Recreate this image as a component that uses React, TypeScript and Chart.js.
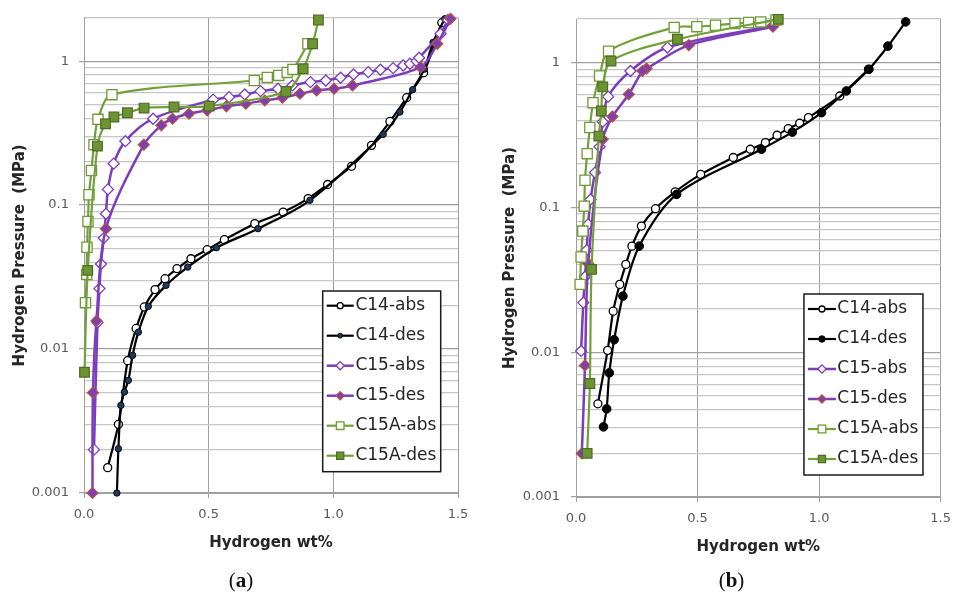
import React, { useEffect, useRef } from "react";
import { Chart, registerables } from "chart.js";

Chart.register(...registerables);

// ---------- text ----------
const SERIES_NAMES = ["C14-abs", "C14-des", "C15-abs", "C15-des", "C15A-abs", "C15A-des"];
const X_TITLE = "Hydrogen wt%";
const Y_TITLE = "Hydrogen Pressure  (MPa)";
const X_TICK_VALUES = [0, 0.5, 1.0, 1.5];
const X_TICK_LABELS = ["0.0", "0.5", "1.0", "1.5"];
const Y_TICK_LABELS = ["0.001", "0.01", "0.1", "1"];
const Y_GRID_VALUES = [
  0.001, 0.002, 0.003, 0.004, 0.005, 0.006, 0.007, 0.008, 0.009,
  0.01, 0.02, 0.03, 0.04, 0.05, 0.06, 0.07, 0.08, 0.09,
  0.1, 0.2, 0.3, 0.4, 0.5, 0.6, 0.7, 0.8, 0.9,
  1, 2,
];
const CAPTIONS = ["a", "b"];

// ---------- panel (a) data: [wt%, MPa] ----------
const A_C14_ABS: [number, number][] = [
  [0.095, 0.0015], [0.138, 0.003], [0.175, 0.0083], [0.209, 0.0139], [0.242, 0.0196],
  [0.285, 0.0259], [0.325, 0.0308], [0.373, 0.0362], [0.429, 0.0424], [0.494, 0.049],
  [0.563, 0.0575], [0.685, 0.0743], [0.799, 0.0894], [0.899, 0.111], [0.977, 0.139],
  [1.073, 0.186], [1.153, 0.26], [1.227, 0.381], [1.294, 0.557], [1.362, 0.83], [1.435, 1.85],
];
const A_C14_DES: [number, number][] = [
  [1.447, 1.97], [1.4, 1.35], [1.365, 0.88], [1.318, 0.633], [1.267, 0.443], [1.2, 0.31],
  [0.906, 0.108], [0.698, 0.0686], [0.531, 0.0506], [0.416, 0.0371], [0.329, 0.0277],
  [0.258, 0.0198], [0.218, 0.0131], [0.195, 0.00904], [0.178, 0.00606], [0.162, 0.00503],
  [0.148, 0.00406], [0.138, 0.00203], [0.132, 0.001],
];
const A_C15_ABS: [number, number][] = [
  [0.04, 0.002], [0.054, 0.0153], [0.062, 0.0263], [0.068, 0.039], [0.079, 0.059],
  [0.088, 0.087], [0.096, 0.1285], [0.119, 0.194], [0.166, 0.278], [0.277, 0.398],
  [0.518, 0.54], [0.582, 0.562], [0.645, 0.587], [0.708, 0.619], [0.778, 0.643],
  [0.836, 0.678], [0.908, 0.715], [0.97, 0.734], [1.029, 0.767], [1.081, 0.808],
  [1.14, 0.839], [1.189, 0.871], [1.24, 0.894], [1.28, 0.933], [1.307, 0.959],
  [1.334, 1.0], [1.344, 1.056], [1.43, 1.55], [1.46, 1.93],
];
const A_C15_DES: [number, number][] = [
  [1.47, 1.97], [1.417, 1.32], [1.35, 0.908], [1.077, 0.678], [1.003, 0.643], [0.933, 0.626],
  [0.866, 0.594], [0.796, 0.557], [0.725, 0.533], [0.649, 0.506], [0.571, 0.485],
  [0.494, 0.455], [0.421, 0.431], [0.355, 0.398], [0.31, 0.358], [0.24, 0.263],
  [0.088, 0.0686], [0.05, 0.0157], [0.036, 0.00498], [0.034, 0.001],
];
const A_C15A_ABS: [number, number][] = [
  [0.006, 0.021], [0.011, 0.033], [0.012, 0.051], [0.016, 0.077], [0.02, 0.118],
  [0.03, 0.174], [0.04, 0.263], [0.056, 0.394], [0.112, 0.585], [0.683, 0.734],
  [0.735, 0.771], [0.781, 0.796], [0.815, 0.835], [0.838, 0.876], [0.898, 1.32],
];
const A_C15A_DES: [number, number][] = [
  [0.94, 1.93], [0.917, 1.32], [0.879, 0.885], [0.81, 0.615], [0.502, 0.487], [0.361, 0.48],
  [0.241, 0.472], [0.174, 0.438], [0.12, 0.409], [0.086, 0.367], [0.054, 0.257],
  [0.015, 0.0352], [0.002, 0.0069],
];

// ---------- panel (b) data: [wt%, MPa] ----------
const B_C14_ABS: [number, number][] = [
  [0.09, 0.0044], [0.13, 0.0103], [0.153, 0.0192], [0.18, 0.0294], [0.205, 0.0404],
  [0.23, 0.054], [0.269, 0.0743], [0.327, 0.098], [0.408, 0.128], [0.513, 0.169],
  [0.647, 0.221], [0.717, 0.252], [0.779, 0.28], [0.827, 0.315], [0.873, 0.35],
  [0.92, 0.381], [0.956, 0.417], [1.085, 0.588], [1.203, 0.899],
];
const B_C14_DES: [number, number][] = [
  [1.356, 1.91], [1.283, 1.3], [1.205, 0.899], [1.112, 0.637], [1.01, 0.451], [0.89, 0.331],
  [0.763, 0.252], [0.414, 0.123], [0.26, 0.054], [0.193, 0.0244], [0.157, 0.0122],
  [0.137, 0.0072], [0.126, 0.00406], [0.113, 0.00305],
];
const B_C15_ABS: [number, number][] = [
  [0.021, 0.0102], [0.03, 0.022], [0.037, 0.0332], [0.044, 0.0507], [0.05, 0.0763],
  [0.06, 0.1135], [0.078, 0.174], [0.097, 0.262], [0.11, 0.39], [0.132, 0.582],
  [0.224, 0.875], [0.376, 1.27], [0.81, 1.8],
];
const B_C15_DES: [number, number][] = [
  [0.81, 1.77], [0.464, 1.32], [0.29, 0.909], [0.273, 0.875], [0.217, 0.604], [0.15, 0.424],
  [0.11, 0.295], [0.05, 0.041], [0.037, 0.0081], [0.024, 0.002],
];
const B_C15A_ABS: [number, number][] = [
  [0.017, 0.0294], [0.021, 0.0454], [0.028, 0.0686], [0.034, 0.102], [0.037, 0.154],
  [0.046, 0.235], [0.057, 0.356], [0.07, 0.529], [0.097, 0.808], [0.134, 1.2],
  [0.404, 1.75], [0.497, 1.77], [0.574, 1.81], [0.654, 1.86], [0.71, 1.89], [0.76, 1.91],
  [0.823, 1.97],
];
const B_C15A_DES: [number, number][] = [
  [0.832, 1.99], [0.417, 1.45], [0.144, 1.026], [0.11, 0.679], [0.104, 0.463], [0.094, 0.311],
  [0.064, 0.0373], [0.057, 0.00608], [0.046, 0.002],
];

const PANEL_A = [A_C14_ABS, A_C14_DES, A_C15_ABS, A_C15_DES, A_C15A_ABS, A_C15A_DES];
const PANEL_B = [B_C14_ABS, B_C14_DES, B_C15_ABS, B_C15_DES, B_C15A_ABS, B_C15A_DES];

// ---------- styles ----------
const FONT = '"DejaVu Sans", Verdana, sans-serif';
const PURPLE = "#7C3DBB";
const GREEN = "#72A039";

type SeriesStyle = {
  line: string; lineWidth: number; pointStyle: string; radius: number;
  fill: string; border: string; borderWidth: number;
};

function seriesStyles(panel: "a" | "b"): SeriesStyle[] {
  return [
    { line: "#000000", lineWidth: 2.2, pointStyle: "circle", radius: 4, fill: "#ffffff", border: "#000000", borderWidth: 1.3 },
    panel === "a"
      ? { line: "#000000", lineWidth: 2.2, pointStyle: "circle", radius: 3.2, fill: "#1F3A5F", border: "#0A0A0A", borderWidth: 1 }
      : { line: "#000000", lineWidth: 2.2, pointStyle: "circle", radius: 4.3, fill: "#000000", border: "#000000", borderWidth: 1 },
    { line: PURPLE, lineWidth: 2.5, pointStyle: "rectRot", radius: 5.5, fill: "#ffffff", border: PURPLE, borderWidth: 1.3 },
    { line: PURPLE, lineWidth: 2.5, pointStyle: "rectRot", radius: 5.5, fill: "#7D3FB5", border: "#B5533C", borderWidth: 1.2 },
    { line: GREEN, lineWidth: 2.2, pointStyle: "rect", radius: 7.2, fill: "#ffffff", border: "#6F9A35", borderWidth: 1.3 },
    { line: GREEN, lineWidth: 2.2, pointStyle: "rect", radius: 6.8, fill: "#6C9433", border: "#4E6B25", borderWidth: 1.2 },
  ];
}

function drawMarker(ctx: CanvasRenderingContext2D, style: string, r: number, x: number, y: number) {
  ctx.beginPath();
  if (style === "circle") {
    ctx.arc(x, y, r, 0, Math.PI * 2);
  } else if (style === "rect") {
    const h = r * Math.SQRT1_2;
    ctx.rect(x - h, y - h, 2 * h, 2 * h);
  } else {
    ctx.moveTo(x - r, y);
    ctx.lineTo(x, y - r);
    ctx.lineTo(x + r, y);
    ctx.lineTo(x, y + r);
    ctx.closePath();
  }
  ctx.fill();
  ctx.stroke();
}

const boxLegend = {
  id: "boxLegend",
  afterDraw(chart: any, _args: any, opts: any) {
    const { ctx, chartArea } = chart;
    const left = chartArea.right - opts.offsetRight;
    const top = chartArea.bottom - opts.offsetBottom;
    ctx.save();
    ctx.fillStyle = "#ffffff";
    ctx.fillRect(left, top, opts.width, opts.height);
    ctx.strokeStyle = "#1a1a1a";
    ctx.lineWidth = 1.5;
    ctx.strokeRect(left, top, opts.width, opts.height);
    const styles: SeriesStyle[] = opts.styles;
    chart.data.datasets.forEach((ds: any, i: number) => {
      const st = styles[i];
      const y = top + opts.firstRow + i * opts.rowGap;
      ctx.strokeStyle = st.line;
      ctx.lineWidth = st.lineWidth;
      ctx.beginPath();
      ctx.moveTo(left + opts.lineX0, y);
      ctx.lineTo(left + opts.lineX1, y);
      ctx.stroke();
      ctx.fillStyle = st.fill;
      ctx.strokeStyle = st.border;
      ctx.lineWidth = st.borderWidth;
      drawMarker(ctx, st.pointStyle, st.radius * 0.75, left + (opts.lineX0 + opts.lineX1) / 2, y);
      ctx.fillStyle = "#262626";
      ctx.font = `17px ${FONT}`;
      ctx.textAlign = "left";
      ctx.textBaseline = "middle";
      ctx.fillText(ds.label, left + opts.textX, y);
    });
    ctx.restore();
  },
};

const isDecade = (v: number) => Math.abs(Math.log10(v) - Math.round(Math.log10(v))) < 1e-9;

type PanelGeom = {
  padTop: number; padRight: number; yWidth: number; xHeight: number;
  yTitlePad: number; xTitlePad: number; yLabelPad: number;
  legend: any;
};

function buildConfig(data: [number, number][][], panel: "a" | "b", g: PanelGeom): any {
  const styles = seriesStyles(panel);
  const datasets = data.map((pts, i) => {
    const st = styles[i];
    return {
      label: SERIES_NAMES[i],
      data: pts.map(([x, y]) => ({ x, y })),
      showLine: true,
      borderColor: st.line,
      borderWidth: st.lineWidth,
      tension: 0.3,
      pointStyle: st.pointStyle,
      pointRadius: st.radius,
      pointBackgroundColor: st.fill,
      pointBorderColor: st.border,
      pointBorderWidth: st.borderWidth,
      order: data.length - i,
      clip: false,
    };
  });
  const gridMajor = "#A0A0A0";
  const gridMinor = "#C6C6C6";
  return {
    type: "scatter",
    data: { datasets },
    plugins: [boxLegend],
    options: {
      animation: false,
      responsive: false,
      events: [],
      layout: { padding: { left: 0, top: g.padTop, right: g.padRight, bottom: 0 } },
      plugins: {
        legend: { display: false },
        tooltip: { enabled: false },
        boxLegend: { ...g.legend, styles },
      },
      scales: {
        x: {
          type: "linear",
          min: 0,
          max: 1.5,
          afterBuildTicks: (s: any) => { s.ticks = X_TICK_VALUES.map((v) => ({ value: v })); },
          afterFit: (s: any) => { s.height = g.xHeight; },
          ticks: {
            autoSkip: false,
            maxRotation: 0,
            padding: 9,
            color: "#595959",
            font: { family: FONT, size: 13 },
            callback: (v: number) => {
              const i = X_TICK_VALUES.findIndex((t) => Math.abs(t - v) < 1e-9);
              return i >= 0 ? X_TICK_LABELS[i] : "";
            },
          },
          grid: { color: gridMajor, lineWidth: 1, tickLength: 5, tickColor: gridMajor },
          border: { color: gridMajor, width: 1 },
          title: {
            display: true,
            text: X_TITLE,
            color: "#262626",
            font: { family: FONT, size: 15, weight: "bold" },
            padding: { top: 0, bottom: g.xTitlePad },
          },
        },
        y: {
          type: "logarithmic",
          min: 0.001,
          max: 2,
          afterBuildTicks: (s: any) => { s.ticks = Y_GRID_VALUES.map((v) => ({ value: v })); },
          afterFit: (s: any) => { s.width = g.yWidth; },
          ticks: {
            autoSkip: false,
            padding: g.yLabelPad,
            color: "#595959",
            font: { family: FONT, size: 13 },
            callback: (v: number) => {
              if (!isDecade(v)) return "";
              const i = Math.round(Math.log10(v)) + 3;
              return Y_TICK_LABELS[i] ?? "";
            },
          },
          grid: {
            color: (c: any) => (c.tick && isDecade(c.tick.value) ? gridMajor : gridMinor),
            tickColor: (c: any) => (c.tick && isDecade(c.tick.value) ? gridMajor : "rgba(0,0,0,0)"),
            lineWidth: (c: any) => (c.tick && isDecade(c.tick.value) ? 1.2 : 1.2),
            tickLength: 5,
          },
          border: { color: gridMajor, width: 1 },
          title: {
            display: true,
            text: Y_TITLE,
            color: "#262626",
            font: { family: FONT, size: 15, weight: "bold" },
            padding: { top: g.yTitlePad, bottom: 0 },
          },
        },
      },
    },
  };
}

const GEOM_A: PanelGeom = {
  padTop: 16, padRight: 22, yWidth: 84, xHeight: 100,
  yTitlePad: 11.5, xTitlePad: 41, yLabelPad: 10,
  legend: { offsetRight: 135.3, offsetBottom: 202, width: 118, height: 180.7, firstRow: 14.7, rowGap: 30, lineX0: 4, lineX1: 31, textX: 32.7 },
};
const GEOM_B: PanelGeom = {
  padTop: 19, padRight: 9, yWidth: 96, xHeight: 96,
  yTitlePad: 21.5, xTitlePad: 37.3, yLabelPad: 11,
  legend: { offsetRight: 136.7, offsetBottom: 203, width: 119, height: 181, firstRow: 15, rowGap: 30, lineX0: 4, lineX1: 32, textX: 33.4 },
};

function Panel({ data, panel, geom, left }: { data: [number, number][][]; panel: "a" | "b"; geom: PanelGeom; left: number }) {
  const ref = useRef<HTMLCanvasElement | null>(null);
  useEffect(() => {
    if (!ref.current) return;
    const chart = new Chart(ref.current, buildConfig(data, panel, geom));
    return () => chart.destroy();
  }, [data, panel, geom]);
  return (
    <div style={{ position: "absolute", left, top: 0, width: 480, height: 593 }}>
      <canvas ref={ref} width={480} height={593} style={{ width: 480, height: 593, display: "block" }} />
    </div>
  );
}

function Caption({ letter, center }: { letter: string; center: number }) {
  return (
    <div
      style={{
        position: "absolute",
        left: center - 40,
        width: 80,
        top: 567,
        height: 26,
        lineHeight: "26px",
        textAlign: "center",
        fontFamily: '"Liberation Serif", "DejaVu Serif", serif',
        fontSize: 21,
        color: "#111",
      }}
    >
      (<b>{letter}</b>)
    </div>
  );
}

export default function App() {
  return (
    <div style={{ position: "absolute", left: 0, top: 0, width: 960, height: 593, background: "#ffffff", overflow: "hidden" }}>
      <Panel data={PANEL_A} panel="a" geom={GEOM_A} left={0} />
      <Panel data={PANEL_B} panel="b" geom={GEOM_B} left={480} />
      <Caption letter={CAPTIONS[0]} center={241} />
      <Caption letter={CAPTIONS[1]} center={731.5} />
    </div>
  );
}
